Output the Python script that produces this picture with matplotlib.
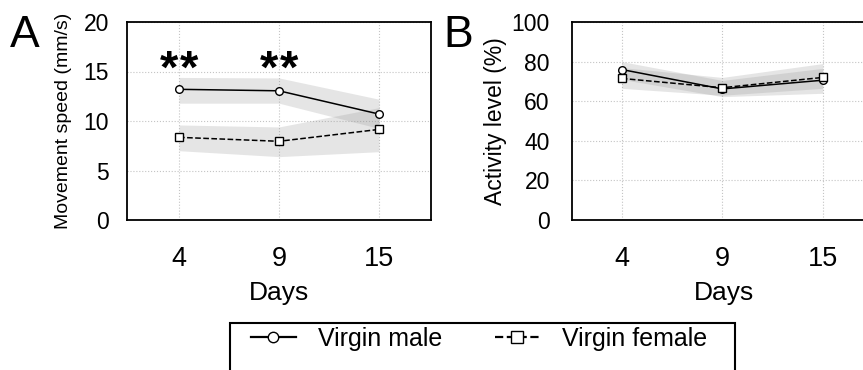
import matplotlib
matplotlib.use("Agg")
import matplotlib.pyplot as plt
from matplotlib.lines import Line2D
from matplotlib.patches import Rectangle

plt.rcParams['font.family'] = ['Liberation Sans', 'DejaVu Sans']

days = ['4', '9', '15']

# movement speed (mm/s)
speed_male = [13.2, 13.05, 10.7]
speed_male_lo = [11.8, 11.8, 9.25]
speed_male_hi = [14.4, 14.35, 12.2]
speed_female = [8.35, 7.95, 9.15]
speed_female_lo = [7.0, 6.4, 6.9]
speed_female_hi = [9.6, 9.4, 11.35]

# activity level (%)
act_male = [76.0, 66.2, 70.6]
act_male_lo = [71.0, 62.3, 64.0]
act_male_hi = [80.0, 70.5, 76.6]
act_female = [71.5, 66.8, 72.0]
act_female_lo = [66.5, 63.0, 66.5]
act_female_hi = [77.0, 72.0, 79.0]

signif = ['**', '**', '']

fig = plt.figure(figsize=(8.63, 3.70), dpi=100)
axA = fig.add_axes([127/863, 1-220/370, 304/863, 198/370])
axB = fig.add_axes([572/863, 1-220/370, 303/863, 198/370])

x = range(len(days))
band = dict(color='#999999', alpha=0.25, lw=0)

def draw(ax, m, mlo, mhi, f, flo, fhi):
    ax.fill_between(x, mlo, mhi, **band)
    ax.fill_between(x, flo, fhi, **band)
    ax.plot(x, m, '-', color='black', lw=1.1, marker='o', ms=5.5,
            mfc='white', mec='black', mew=1.0, zorder=3)
    ax.plot(x, f, '--', color='black', lw=1.1, marker='s', ms=5.5,
            mfc='white', mec='black', mew=1.0, zorder=3)
    ax.set_xticks(list(x))
    ax.set_xticklabels(days)
    ax.grid(True, ls=':', color='#c4c4c4', lw=0.8)
    ax.set_axisbelow(True)
    ax.tick_params(length=0, labelsize=16.5)
    ax.tick_params(axis='x', labelsize=19.5, pad=19)
    for s in ax.spines.values():
        s.set_linewidth(1.3)
    ax.set_xlabel('Days', fontsize=19, labelpad=6)

draw(axA, speed_male, speed_male_lo, speed_male_hi,
     speed_female, speed_female_lo, speed_female_hi)
axA.set_xlim(-0.52, 2.52)
axA.set_ylim(0, 20)
axA.set_yticks([0, 5, 10, 15, 20])
axA.tick_params(axis='y', pad=13)
axA.set_ylabel('Movement speed (mm/s)', fontsize=14, labelpad=8)
# significance stars, drawn one by one so they sit a bit apart
for i, s in enumerate(signif):
    n = len(s)
    for k, ch in enumerate(s):
        axA.text(i + (k - (n - 1) / 2) * 0.2, 13.9, ch, ha='center',
                 va='baseline', fontsize=34, fontweight='bold')

draw(axB, act_male, act_male_lo, act_male_hi,
     act_female, act_female_lo, act_female_hi)
axB.set_xlim(-0.495, 2.52)
axB.set_ylim(0, 100)
axB.set_yticks([0, 20, 40, 60, 80, 100])
axB.tick_params(axis='y', pad=16)
axB.set_ylabel('Activity level (%)', fontsize=16.5, labelpad=3)

fig.text(10/863, 1-47/370, 'A', fontsize=32, va='baseline')
fig.text(443/863, 1-47/370, 'B', fontsize=32, va='baseline')

# legend
h1 = Line2D([], [], color='black', ls='-', lw=1.6, marker='o', ms=7.5,
            mfc='white', mec='black')
h2 = Line2D([], [], color='black', ls='--', lw=1.6, marker='s', ms=8.5,
            mfc='white', mec='black')
fig.legend([h1, h2], ['Virgin male', 'Virgin female'], loc='center',
           bbox_to_anchor=(479/863, 1-339/370), ncol=2, frameon=False,
           fontsize=18, handlelength=1.8, handletextpad=0.9,
           columnspacing=2.1)
fig.add_artist(Rectangle((230/863, -0.1), 505/863, 0.1+1-323/370,
                         transform=fig.transFigure, fill=False,
                         lw=1.5, ec='black'))

fig.savefig('out.png', dpi=100)
